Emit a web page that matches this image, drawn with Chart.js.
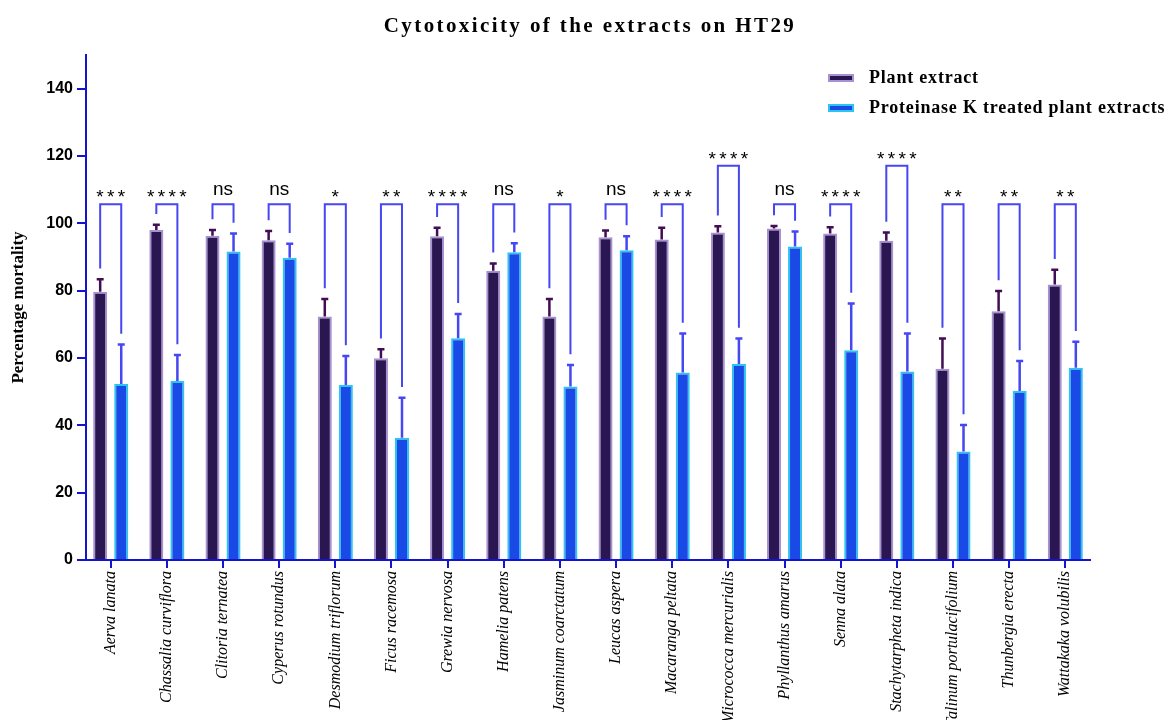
<!DOCTYPE html>
<html>
<head>
<meta charset="utf-8">
<title>Cytotoxicity of the extracts on HT29</title>
<script src="https://cdn.jsdelivr.net/npm/chart.js@4.4.1/dist/chart.umd.min.js"></script>
<style>
  html, body { margin: 0; padding: 0; background: #ffffff; }
  #wrap { width: 1164px; height: 720px; }
</style>
</head>
<body>
<div id="wrap"><canvas id="chart" width="1164" height="720"></canvas></div>
<script>
// Plant species tested
const categories = [
  'Aerva lanata', 'Chassalia curviflora', 'Clitoria ternatea', 'Cyperus rotundus',
  'Desmodium triflorum', 'Ficus racemosa', 'Grewia nervosa', 'Hamelia patens',
  'Jasminum coarctatum', 'Leucas aspera', 'Macaranga peltata', 'Micrococca mercurialis',
  'Phyllanthus amarus', 'Senna alata', 'Stachytarpheta indica', 'Talinum portulacifolium',
  'Thunbergia erecta', 'Wattakaka volubilis'
];

// Mean percentage mortality and SD, crude plant extracts
const plantMean = [79.7, 98.0, 96.3, 95.0, 72.3, 59.9, 96.2, 85.9, 72.3, 95.9, 95.2, 97.3, 98.5, 97.0, 94.8, 56.8, 73.9, 81.8];
const plantSD   = [3.7, 1.6, 1.7, 2.7, 5.2, 2.7, 2.5, 2.2, 5.2, 2.0, 3.5, 1.8, 0.7, 1.8, 2.5, 9.0, 6.0, 4.4];

// Mean percentage mortality and SD, proteinase K treated extracts
const treatedMean = [52.3, 53.2, 91.6, 89.8, 52.0, 36.3, 65.9, 91.4, 51.5, 92.0, 55.7, 58.2, 93.1, 62.3, 56.0, 32.2, 50.2, 57.1];
const treatedSD   = [11.7, 7.7, 5.4, 4.1, 8.6, 11.9, 7.2, 2.7, 6.4, 4.2, 11.6, 7.6, 4.5, 13.9, 11.3, 7.9, 8.9, 7.7];

// Pairwise significance and bracket height (percentage units)
const significance = ['***', '****', 'ns', 'ns', '*', '**', '****', 'ns', '*', 'ns', '****', '****', 'ns', '****', '****', '**', '**', '**'];
const bracketLevel = [105.7, 105.7, 105.7, 105.7, 105.7, 105.7, 105.7, 105.7, 105.7, 105.7, 105.7, 117.1, 105.7, 105.7, 117.1, 105.7, 105.7, 105.7];

// Y axis tick values
const yTicks = [0, 20, 40, 60, 80, 100, 120, 140];

const AXIS_BLUE = '#1414cf';
const BRACKET_BLUE = '#4646f2';
const SERIF = "'Liberation Serif', 'Times New Roman', serif";
const SANS = "'Liberation Sans', Arial, sans-serif";

const seriesStyle = [
  { label: 'Plant extract', fill: '#2a1650', border: '#a891d2', err: '#420d52' },
  { label: 'Proteinase K treated plant extracts', fill: '#1a4ae6', border: '#2cc4f2', err: '#4646f2' }
];

// Error bars (mean + SD) on each bar, drawn after the bars
const errorBarPlugin = {
  id: 'errorBars',
  afterDatasetsDraw(chart) {
    const ctx = chart.ctx;
    const yScale = chart.scales.y;
    [plantSD, treatedSD].forEach((sds, di) => {
      const meta = chart.getDatasetMeta(di);
      const means = di === 0 ? plantMean : treatedMean;
      ctx.save();
      ctx.strokeStyle = seriesStyle[di].err;
      ctx.lineWidth = 2.5;
      meta.data.forEach((bar, i) => {
        const yTop = yScale.getPixelForValue(means[i] + sds[i]);
        const yBar = yScale.getPixelForValue(means[i]);
        ctx.beginPath();
        ctx.moveTo(bar.x, yBar);
        ctx.lineTo(bar.x, yTop);
        ctx.moveTo(bar.x - 3.5, yTop);
        ctx.lineTo(bar.x + 3.5, yTop);
        ctx.stroke();
      });
      ctx.restore();
    });
  }
};

// Significance brackets between the paired bars
const bracketPlugin = {
  id: 'brackets',
  afterDatasetsDraw(chart) {
    const ctx = chart.ctx;
    const yScale = chart.scales.y;
    const m0 = chart.getDatasetMeta(0);
    const m1 = chart.getDatasetMeta(1);
    ctx.save();
    ctx.strokeStyle = BRACKET_BLUE;
    ctx.lineWidth = 2;
    ctx.fillStyle = '#000';
    ctx.textAlign = 'center';
    categories.forEach((c, i) => {
      const xl = m0.data[i].x;
      const xr = m1.data[i].x;
      const top = yScale.getPixelForValue(bracketLevel[i]);
      const yl = yScale.getPixelForValue(plantMean[i] + plantSD[i] + 3.2);
      const yr = yScale.getPixelForValue(treatedMean[i] + treatedSD[i] + 3.2);
      ctx.beginPath();
      ctx.moveTo(xl, yl);
      ctx.lineTo(xl, top);
      ctx.lineTo(xr, top);
      ctx.lineTo(xr, yr);
      ctx.stroke();
      const cx = (xl + xr) / 2;
      const s = significance[i];
      ctx.textBaseline = 'alphabetic';
      if (s === 'ns') {
        ctx.font = '19px ' + SANS;
        ctx.letterSpacing = '0px';
        ctx.fillText(s, cx, top - 9);
      } else {
        ctx.font = '19px ' + SANS;
        ctx.letterSpacing = '3.3px';
        ctx.fillText(s, cx + 1.6, top - 1);
      }
    });
    ctx.restore();
  }
};

// Chart heading and series key
const headerPlugin = {
  id: 'header',
  afterDraw(chart) {
    const ctx = chart.ctx;
    ctx.save();
    ctx.fillStyle = '#000';
    ctx.textAlign = 'center';
    ctx.textBaseline = 'alphabetic';
    ctx.font = 'bold 21px ' + SERIF;
    ctx.letterSpacing = '2.4px';
    ctx.fillText('Cytotoxicity of the extracts on HT29', 590, 32);

    const rows = [78, 108];
    ctx.textAlign = 'left';
    ctx.font = 'bold 18px ' + SERIF;
    ctx.letterSpacing = '0.8px';
    seriesStyle.forEach((s, i) => {
      const y = rows[i];
      ctx.fillStyle = s.border;
      ctx.fillRect(828, y - 4, 26, 8);
      ctx.fillStyle = s.fill;
      ctx.fillRect(830, y - 2, 22, 4);
      ctx.fillStyle = '#000';
      ctx.textBaseline = 'middle';
      ctx.fillText(s.label, 869, y);
    });
    ctx.restore();
  }
};

new Chart(document.getElementById('chart'), {
  type: 'bar',
  data: {
    datasets: [
      {
        label: seriesStyle[0].label,
        data: plantMean.map((v, i) => ({ x: i, y: v })),
        backgroundColor: seriesStyle[0].fill,
        borderColor: seriesStyle[0].border,
        borderWidth: 2
      },
      {
        label: seriesStyle[1].label,
        data: treatedMean.map((v, i) => ({ x: i, y: v })),
        backgroundColor: seriesStyle[1].fill,
        borderColor: seriesStyle[1].border,
        borderWidth: 2
      }
    ]
  },
  options: {
    responsive: false,
    animation: false,
    devicePixelRatio: 1,
    categoryPercentage: 0.75,
    barPercentage: 0.667,
    layout: { padding: { left: 0, right: 74, top: 55, bottom: 0 } },
    plugins: {
      legend: { display: false },
      title: { display: false },
      tooltip: { enabled: false }
    },
    scales: {
      x: {
        type: 'linear',
        offset: false,
        min: -0.44,
        max: 17.44,
        afterBuildTicks: (axis) => { axis.ticks = categories.map((c, i) => ({ value: i })); },
        afterFit: (axis) => { axis.height = 160; },
        ticks: {
          autoSkip: false,
          minRotation: 90,
          maxRotation: 90,
          padding: 3,
          color: '#000',
          font: { family: SERIF, size: 16, style: 'italic' },
          callback: (v) => categories[v]
        },
        grid: { offset: false, drawOnChartArea: false, drawTicks: true, tickLength: 8, color: AXIS_BLUE, lineWidth: 2 },
        border: { color: AXIS_BLUE, width: 2 }
      },
      y: {
        min: 0,
        max: 150,
        afterBuildTicks: (axis) => { axis.ticks = yTicks.map(v => ({ value: v })); },
        afterFit: (axis) => { axis.width = 86; },
        ticks: {
          padding: 4,
          color: '#000',
          font: { family: SANS, size: 16, weight: 'bold' }
        },
        title: {
          display: true,
          text: 'Percentage mortality',
          color: '#000',
          font: { family: SERIF, size: 17, weight: 'bold' },
          padding: { top: 8, bottom: 0 }
        },
        grid: { drawOnChartArea: false, drawTicks: true, tickLength: 9, color: AXIS_BLUE, lineWidth: 2 },
        border: { color: AXIS_BLUE, width: 2 }
      }
    }
  },
  plugins: [errorBarPlugin, bracketPlugin, headerPlugin]
});
</script>
</body>
</html>
